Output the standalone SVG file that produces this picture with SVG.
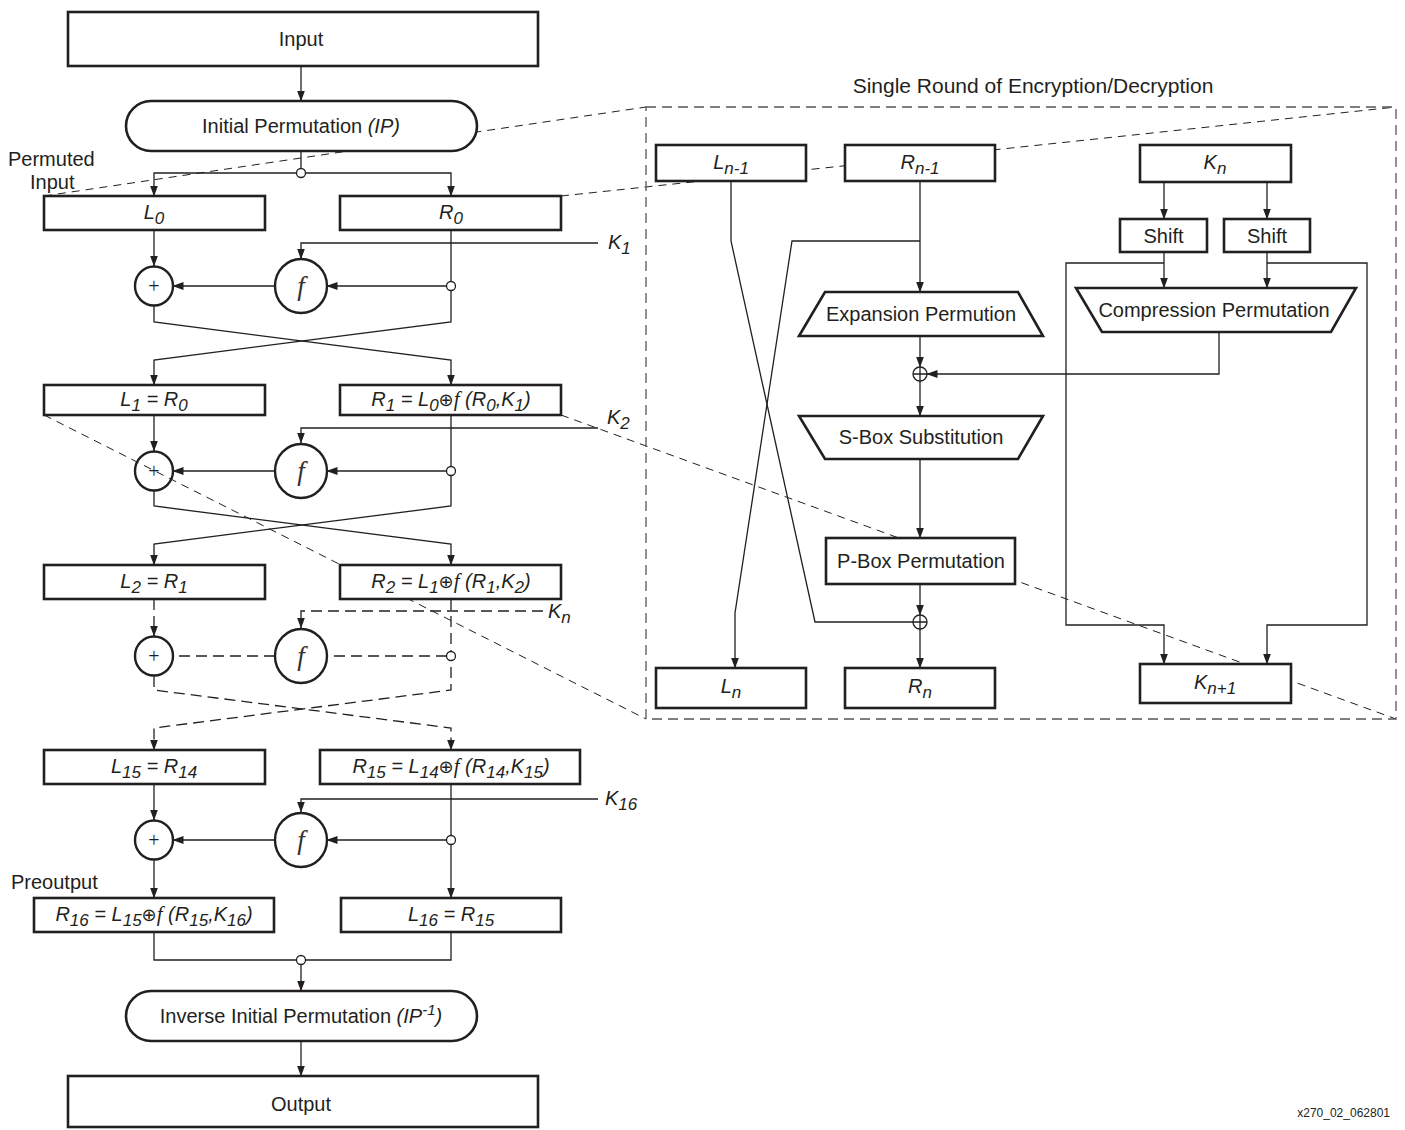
<svg xmlns="http://www.w3.org/2000/svg" width="1405" height="1130" viewBox="0 0 1405 1130">
<defs>
<marker id="ar" markerUnits="userSpaceOnUse" markerWidth="11" markerHeight="8" refX="10.5" refY="4" orient="auto">
<path d="M0,0 L11,4 L0,8 z" fill="#231f20"/>
</marker>
<style>
.box{fill:#fff;stroke:#231f20;stroke-width:2.6}
.cir{fill:none;stroke:#231f20;stroke-width:2.4}
.fc{fill:#fff;stroke:#231f20;stroke-width:2.4}
.jn{fill:#fff;stroke:#231f20;stroke-width:1.3}
.ln{fill:none;stroke:#231f20;stroke-width:1.3}
.ah{marker-end:url(#ar)}
.dl{stroke-dasharray:11,6}
.zl{fill:none;stroke:#231f20;stroke-width:1;stroke-dasharray:8,6}
.pb{fill:none;stroke:#555;stroke-width:1.3;stroke-dasharray:10,6}
.t{font-family:"Liberation Sans",Arial,Helvetica,sans-serif;font-size:20px;fill:#231f20}
.ti{font-size:21px}
.it{font-style:italic}
.sb{font-size:17px}
.ox{font-family:"DejaVu Sans",sans-serif;font-size:18px;font-style:normal}
.fi{font-family:"Liberation Serif","Times New Roman",serif;font-style:italic;font-size:21px}
.ff{font-family:"Liberation Serif","Times New Roman",serif;font-style:italic;font-size:27px;fill:#333}
.pl{font-family:"Liberation Serif","Times New Roman",serif;font-size:20px;fill:#231f20}
.sm{font-family:"Liberation Sans",Arial,sans-serif;font-size:12px;fill:#231f20}
</style>
</defs>
<rect width="1405" height="1130" fill="#fff"/>

<g id="zoom-lines">
<line class="zl" x1="44" y1="196" x2="646" y2="107"/>
<line class="zl" x1="561" y1="196" x2="1396" y2="107"/>
<line class="zl" x1="44" y1="415" x2="646" y2="719"/>
<line class="zl" x1="561" y1="415" x2="1396" y2="719"/>
</g>

<g id="round-panel">
<rect class="pb" x="646" y="107" width="750" height="612"/>
<text class="t ti" x="1033" y="93" text-anchor="middle">Single Round of Encryption/Decryption</text>
</g>

<g id="connectors">
<line class="ln ah" x1="301" y1="66" x2="301" y2="101"/>
<line class="ln" x1="301" y1="151" x2="301" y2="169"/>
<path class="ln ah" d="M297,173 H154 V196"/>
<path class="ln ah" d="M305,173 H451 V196"/>
<line class="ln ah" x1="154" y1="230" x2="154" y2="266"/>
<path class="ln ah" d="M598,243 H301 V259"/>
<path class="ln ah" d="M451,230 V322 L154,360 V385"/>
<line class="ln ah" x1="447" y1="286" x2="327" y2="286"/>
<line class="ln ah" x1="275" y1="286" x2="173" y2="286"/>
<path class="ln ah" d="M154,306 V322 L451,360 V385"/>
<line class="ln ah" x1="154" y1="415" x2="154" y2="451"/>
<path class="ln ah" d="M598,428 H301 V443"/>
<path class="ln ah" d="M451,415 V506 L154,544 V565"/>
<line class="ln ah" x1="447" y1="471" x2="327" y2="471"/>
<line class="ln ah" x1="275" y1="471" x2="173" y2="471"/>
<path class="ln ah" d="M154,491 V506 L451,544 V565"/>
<line class="ln dl ah" x1="154" y1="599" x2="154" y2="636"/>
<path class="ln dl ah" d="M543,611 H301 V628"/>
<path class="ln dl ah" d="M451,599 V690 L154,728 V750"/>
<line class="ln dl" x1="447" y1="656" x2="327" y2="656"/>
<line class="ln dl" x1="275" y1="656" x2="173" y2="656"/>
<path class="ln dl ah" d="M154,676 V690 L451,728 V750"/>
<line class="ln ah" x1="154" y1="784" x2="154" y2="820"/>
<path class="ln ah" d="M598,799 H301 V812"/>
<path class="ln ah" d="M451,784 V898"/>
<line class="ln ah" x1="447" y1="840" x2="327" y2="840"/>
<line class="ln ah" x1="275" y1="840" x2="173" y2="840"/>
<line class="ln ah" x1="154" y1="860" x2="154" y2="898"/>
<path class="ln" d="M154,932 V960 H451 V932"/>
<line class="ln ah" x1="301" y1="964" x2="301" y2="991"/>
<line class="ln ah" x1="301" y1="1041" x2="301" y2="1076"/>
<line class="ln ah" x1="920" y1="181" x2="920" y2="292"/>
<path class="ln ah" d="M920,241 H792 L735,613 V668"/>
<path class="ln" d="M731,181 V241 L815,622 H913"/>
<line class="ln ah" x1="920" y1="336" x2="920" y2="367"/>
<line class="ln ah" x1="920" y1="381" x2="920" y2="416"/>
<line class="ln ah" x1="920" y1="459" x2="920" y2="538"/>
<line class="ln ah" x1="920" y1="584" x2="920" y2="615"/>
<line class="ln ah" x1="920" y1="629" x2="920" y2="668"/>
<line class="ln ah" x1="1164" y1="182" x2="1164" y2="219"/>
<line class="ln ah" x1="1267" y1="182" x2="1267" y2="219"/>
<line class="ln ah" x1="1164" y1="252" x2="1164" y2="288"/>
<line class="ln ah" x1="1267" y1="252" x2="1267" y2="288"/>
<path class="ln ah" d="M1164,263 H1066 V625 H1164 V664"/>
<path class="ln ah" d="M1267,263 H1367 V625 H1267 V664"/>
<path class="ln ah" d="M1219,332 V374 H927"/>
</g>

<g id="input"><rect class="box" x="68" y="12" width="470" height="54"/><text class="t" x="301" y="46" text-anchor="middle">Input</text></g>
<g id="ip"><rect class="box" x="126" y="101" width="351" height="50" rx="25"/><text class="t" x="301" y="133" text-anchor="middle">Initial Permutation <tspan class="it">(IP)</tspan></text></g>
<g id="junction-ip"><circle class="jn" cx="301" cy="173" r="4.5"/></g>
<g id="permuted-input-label"><text class="t" x="8" y="166">Permuted</text><text class="t" x="30" y="189">Input</text></g>

<g id="L0"><rect class="box" x="44" y="196" width="221" height="34"/><text class="t it" x="154" y="219" text-anchor="middle">L<tspan class="sb" dy="5">0</tspan></text></g>
<g id="R0"><rect class="box" x="340" y="196" width="221" height="34"/><text class="t it" x="451" y="219" text-anchor="middle">R<tspan class="sb" dy="5">0</tspan></text></g>
<g id="xor1"><ellipse class="cir" cx="154" cy="286" rx="19" ry="19.5"/><text class="pl" x="154" y="293" text-anchor="middle">+</text></g>
<g id="f1"><ellipse class="fc" cx="301" cy="286" rx="26" ry="27"/><text class="ff" x="301" y="295" text-anchor="middle">f</text></g>
<g id="j1"><circle class="jn" cx="451" cy="286" r="4.5"/></g>
<g id="K1"><text class="t it" x="608" y="249">K<tspan class="sb" dy="5">1</tspan></text></g>

<g id="L1"><rect class="box" x="44" y="385" width="221" height="30"/><text class="t it" x="154" y="406" text-anchor="middle">L<tspan class="sb" dy="5">1</tspan><tspan dy="-5"> = R</tspan><tspan class="sb" dy="5">0</tspan></text></g>
<g id="R1"><rect class="box" x="340" y="385" width="221" height="30"/><text class="t it" x="451" y="406" text-anchor="middle">R<tspan class="sb" dy="5">1</tspan><tspan dy="-5"> = L</tspan><tspan class="sb" dy="5">0</tspan><tspan class="ox" dy="-5">⊕</tspan><tspan class="fi">f</tspan> (R<tspan class="sb" dy="5">0</tspan><tspan dy="-5">,K</tspan><tspan class="sb" dy="5">1</tspan><tspan dy="-5">)</tspan></text></g>
<g id="xor2"><ellipse class="cir" cx="154" cy="471" rx="19" ry="19.5"/><text class="pl" x="154" y="478" text-anchor="middle">+</text></g>
<g id="f2"><ellipse class="fc" cx="301" cy="471" rx="26" ry="27"/><text class="ff" x="301" y="480" text-anchor="middle">f</text></g>
<g id="j2"><circle class="jn" cx="451" cy="471" r="4.5"/></g>
<g id="K2"><text class="t it" x="607" y="424">K<tspan class="sb" dy="5">2</tspan></text></g>

<g id="L2"><rect class="box" x="44" y="565" width="221" height="34"/><text class="t it" x="154" y="588" text-anchor="middle">L<tspan class="sb" dy="5">2</tspan><tspan dy="-5"> = R</tspan><tspan class="sb" dy="5">1</tspan></text></g>
<g id="R2"><rect class="box" x="340" y="565" width="221" height="34"/><text class="t it" x="451" y="588" text-anchor="middle">R<tspan class="sb" dy="5">2</tspan><tspan dy="-5"> = L</tspan><tspan class="sb" dy="5">1</tspan><tspan class="ox" dy="-5">⊕</tspan><tspan class="fi">f</tspan> (R<tspan class="sb" dy="5">1</tspan><tspan dy="-5">,K</tspan><tspan class="sb" dy="5">2</tspan><tspan dy="-5">)</tspan></text></g>
<g id="xorn"><ellipse class="cir" cx="154" cy="656" rx="19" ry="19.5"/><text class="pl" x="154" y="663" text-anchor="middle">+</text></g>
<g id="fn"><ellipse class="fc" cx="301" cy="656" rx="26" ry="27"/><text class="ff" x="301" y="665" text-anchor="middle">f</text></g>
<g id="jn"><circle class="jn" cx="451" cy="656" r="4.5"/></g>
<g id="Kn-label"><text class="t it" x="548" y="618">K<tspan class="sb" dy="5">n</tspan></text></g>

<g id="L15"><rect class="box" x="44" y="750" width="221" height="34"/><text class="t it" x="154" y="773" text-anchor="middle">L<tspan class="sb" dy="5">15</tspan><tspan dy="-5"> = R</tspan><tspan class="sb" dy="5">14</tspan></text></g>
<g id="R15"><rect class="box" x="320" y="750" width="260" height="34"/><text class="t it" x="451" y="773" text-anchor="middle">R<tspan class="sb" dy="5">15</tspan><tspan dy="-5"> = L</tspan><tspan class="sb" dy="5">14</tspan><tspan class="ox" dy="-5">⊕</tspan><tspan class="fi">f</tspan> (R<tspan class="sb" dy="5">14</tspan><tspan dy="-5">,K</tspan><tspan class="sb" dy="5">15</tspan><tspan dy="-5">)</tspan></text></g>
<g id="xor16"><ellipse class="cir" cx="154" cy="840" rx="19" ry="19.5"/><text class="pl" x="154" y="847" text-anchor="middle">+</text></g>
<g id="f16"><ellipse class="fc" cx="301" cy="840" rx="26" ry="27"/><text class="ff" x="301" y="849" text-anchor="middle">f</text></g>
<g id="j16"><circle class="jn" cx="451" cy="840" r="4.5"/></g>
<g id="K16"><text class="t it" x="605" y="805">K<tspan class="sb" dy="5">16</tspan></text></g>

<g id="preoutput-label"><text class="t" x="11" y="889">Preoutput</text></g>
<g id="R16"><rect class="box" x="34" y="898" width="240" height="34"/><text class="t it" x="154" y="921" text-anchor="middle">R<tspan class="sb" dy="5">16</tspan><tspan dy="-5"> = L</tspan><tspan class="sb" dy="5">15</tspan><tspan class="ox" dy="-5">⊕</tspan><tspan class="fi">f</tspan> (R<tspan class="sb" dy="5">15</tspan><tspan dy="-5">,K</tspan><tspan class="sb" dy="5">16</tspan><tspan dy="-5">)</tspan></text></g>
<g id="L16"><rect class="box" x="341" y="898" width="220" height="34"/><text class="t it" x="451" y="921" text-anchor="middle">L<tspan class="sb" dy="5">16</tspan><tspan dy="-5"> = R</tspan><tspan class="sb" dy="5">15</tspan></text></g>
<g id="junction-out"><circle class="jn" cx="301" cy="960" r="4.5"/></g>
<g id="ip-inverse"><rect class="box" x="126" y="991" width="351" height="50" rx="25"/><text class="t" x="301" y="1023" text-anchor="middle">Inverse Initial Permutation <tspan class="it">(IP<tspan font-size="15" dy="-8">-1</tspan><tspan dy="8">)</tspan></tspan></text></g>
<g id="output"><rect class="box" x="68" y="1076" width="470" height="51"/><text class="t" x="301" y="1111" text-anchor="middle">Output</text></g>

<g id="Ln-1"><rect class="box" x="656" y="145" width="150" height="36"/><text class="t it" x="731" y="169" text-anchor="middle">L<tspan class="sb" dy="5">n-1</tspan></text></g>
<g id="Rn-1"><rect class="box" x="845" y="145" width="150" height="36"/><text class="t it" x="920" y="169" text-anchor="middle">R<tspan class="sb" dy="5">n-1</tspan></text></g>
<g id="Kn"><rect class="box" x="1140" y="145" width="151" height="37"/><text class="t it" x="1215" y="169" text-anchor="middle">K<tspan class="sb" dy="5">n</tspan></text></g>
<g id="shift-left"><rect class="box" x="1120" y="219" width="87" height="33"/><text class="t" x="1163.5" y="243" text-anchor="middle">Shift</text></g>
<g id="shift-right"><rect class="box" x="1224" y="219" width="86" height="33"/><text class="t" x="1267" y="243" text-anchor="middle">Shift</text></g>
<g id="expansion"><polygon class="box" points="825,292 1018,292 1043,336 799,336"/><text class="t" x="921" y="321" text-anchor="middle">Expansion Permution</text></g>
<g id="compression"><polygon class="box" points="1076,288 1356,288 1331,332 1102,332"/><text class="t" x="1214" y="317" text-anchor="middle">Compression Permutation</text></g>
<g id="xor-a"><circle class="ln" cx="920" cy="374" r="7"/><path class="ln" d="M913,374 H927 M920,367 V381"/></g>
<g id="sbox"><polygon class="box" points="799,416 1043,416 1018,459 825,459"/><text class="t" x="921" y="444" text-anchor="middle">S-Box Substitution</text></g>
<g id="pbox"><rect class="box" x="826" y="538" width="189" height="46"/><text class="t" x="921" y="568" text-anchor="middle">P-Box Permutation</text></g>
<g id="xor-b"><circle class="ln" cx="920" cy="622" r="7"/><path class="ln" d="M913,622 H927 M920,615 V629"/></g>
<g id="Ln"><rect class="box" x="656" y="668" width="150" height="40"/><text class="t it" x="731" y="693" text-anchor="middle">L<tspan class="sb" dy="5">n</tspan></text></g>
<g id="Rn"><rect class="box" x="845" y="668" width="150" height="40"/><text class="t it" x="920" y="693" text-anchor="middle">R<tspan class="sb" dy="5">n</tspan></text></g>
<g id="Kn+1"><rect class="box" x="1140" y="664" width="151" height="39"/><text class="t it" x="1215" y="689" text-anchor="middle">K<tspan class="sb" dy="5">n+1</tspan></text></g>

<g id="footnote"><text class="sm" x="1390" y="1117" text-anchor="end">x270_02_062801</text></g>
</svg>
